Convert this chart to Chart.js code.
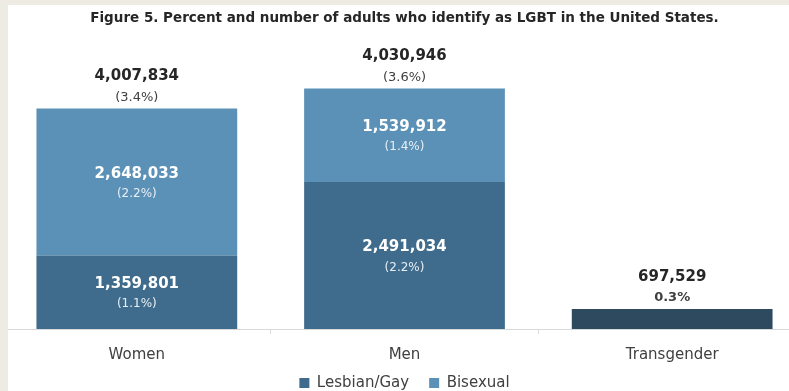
<!DOCTYPE html>
<html>
<head>
<meta charset="utf-8">
<script src="https://cdn.jsdelivr.net/npm/chart.js@4.4.1/dist/chart.umd.min.js"></script>
<style>
  html, body { margin: 0; padding: 0; overflow: hidden; background: #ffffff; }
  body { width: 789px; height: 391px; position: relative; }
  #wrap { position: absolute; left: 0; top: 0; }
  .frame { position: absolute; background: #eeebe2; }
  #frameLeft { left: 0; top: 0; width: 8px; height: 391px; }
  #frameTop { left: 0; top: 0; width: 789px; height: 5px; }
</style>
</head>
<body>
<div id="wrap"><canvas id="lgbtChart" width="806" height="409"></canvas></div>
<div class="frame" id="frameLeft"></div>
<div class="frame" id="frameTop"></div>
<script>
// Categories and values (percent of adults) for each stacked segment
const categories = ['Women', 'Men', 'Transgender'];
const lesbianGayPct = [1.1, 2.2, null];
const bisexualPct = [2.2, 1.4, null];
const transgenderPct = [null, null, 0.3];

// Counts shown inside the segments
const lesbianGayCount = [1359801, 2491034, null];
const bisexualCount = [2648033, 1539912, null];

// Totals shown above each bar
const totalCount = [4007834, 4030946, 697529];
const totalPctLabel = ['(3.4%)', '(3.6%)', '0.3%'];

const FONT = "'DejaVu Sans', sans-serif";
const fmt = n => n.toLocaleString('en-US');

// Writes the count and percent on each segment and above each stack
const barLabels = {
    id: 'barLabels',
    afterDatasetsDraw(chart) {
        const ctx = chart.ctx;
        ctx.save();
        ctx.textAlign = 'center';
        ctx.textBaseline = 'middle';

        const inner = [
            { ds: 0, counts: lesbianGayCount, pcts: lesbianGayPct },
            { ds: 1, counts: bisexualCount, pcts: bisexualPct }
        ];
        inner.forEach(seg => {
            const meta = chart.getDatasetMeta(seg.ds);
            meta.data.forEach((bar, i) => {
                if (seg.counts[i] == null) return;
                const mid = (bar.y + bar.base) / 2;
                ctx.fillStyle = '#ffffff';
                ctx.font = 'bold 15px ' + FONT;
                ctx.fillText(fmt(seg.counts[i]), bar.x, mid - 8);
                ctx.fillStyle = '#e8eef4';
                ctx.font = '12px ' + FONT;
                ctx.fillText('(' + seg.pcts[i].toFixed(1) + '%)', bar.x, mid + 12);
            });
        });

        // top of each stack
        categories.forEach((c, i) => {
            let top = Infinity, x = 0;
            chart.data.datasets.forEach((d, di) => {
                const bar = chart.getDatasetMeta(di).data[i];
                if (d.data[i] == null) return;
                if (bar.y < top) { top = bar.y; x = bar.x; }
            });
            ctx.fillStyle = '#262626';
            ctx.font = 'bold 15px ' + FONT;
            ctx.fillText(fmt(totalCount[i]), x, top - 32);
            ctx.fillStyle = '#404040';
            ctx.font = (i === 2 ? 'bold ' : '') + '13px ' + FONT;
            ctx.fillText(totalPctLabel[i], x, top - 11);
        });
        ctx.restore();
    }
};

// pull the legend row up closer to the category labels
const legendNudge = {
    id: 'legendNudge',
    afterLayout(chart) {
        chart.legend.top -= 8.5;
        chart.legend.bottom -= 8.5;
    }
};

const config = {
    type: 'bar',
    data: {
        labels: categories,
        datasets: [
            { label: 'Lesbian/Gay', data: lesbianGayPct, backgroundColor: '#3f6c8c' },
            { label: 'Bisexual', data: bisexualPct, backgroundColor: '#5b91b7' },
            { label: 'Transgender', data: transgenderPct, backgroundColor: '#2d4a5f' }
        ]
    },
    options: {
        responsive: false,
        animation: false,
        categoryPercentage: 0.75,
        barPercentage: 1.0,
        layout: { padding: { left: 3, right: 0, top: 0, bottom: 0 } },
        plugins: {
            title: {
                display: true,
                text: 'Figure 5. Percent and number of adults who identify as LGBT in the United States.',
                color: '#262626',
                font: { family: FONT, size: 13.5, weight: 'bold' },
                padding: { top: 10, bottom: 35.6 }
            },
            legend: {
                position: 'bottom',
                labels: {
                    filter: item => item.text !== 'Transgender',
                    boxWidth: 10,
                    boxHeight: 10,
                    padding: 20,
                    color: '#404040',
                    font: { family: FONT, size: 15 }
                }
            },
            tooltip: { enabled: false }
        },
        scales: {
            x: {
                stacked: true,
                grid: {
                    drawOnChartArea: false,
                    drawTicks: true,
                    tickLength: 5,
                    color: '#d9d9d9'
                },
                border: { color: '#d9d9d9' },
                ticks: {
                    color: '#404040',
                    padding: 12,
                    font: { family: FONT, size: 15 }
                },
                afterFit(scale) { scale.height = 35; }
            },
            y: {
                stacked: true,
                display: false,
                min: 0,
                max: 4
            }
        }
    },
    plugins: [barLabels, legendNudge]
};

new Chart(document.getElementById('lgbtChart'), config);
</script>
</body>
</html>
